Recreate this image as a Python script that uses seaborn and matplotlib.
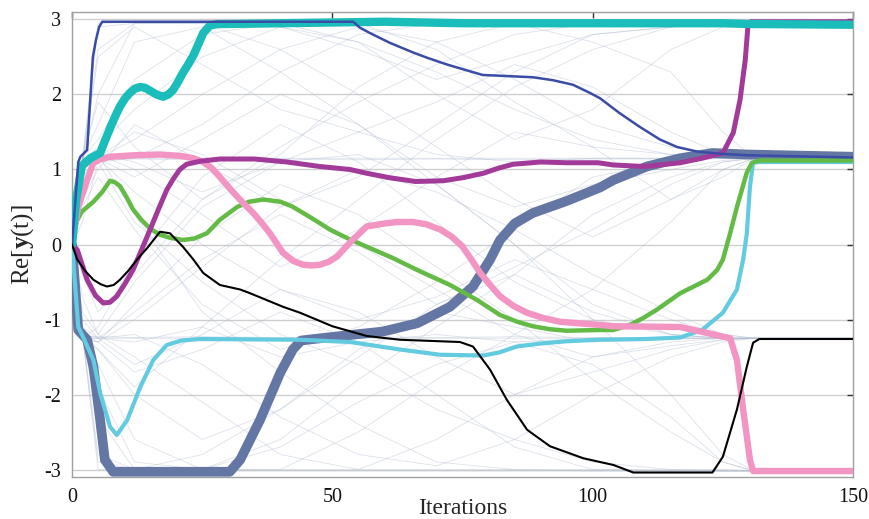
import numpy as np
import pandas as pd
import matplotlib
matplotlib.use("Agg")
import matplotlib.pyplot as plt
import seaborn as sns

# ---------------- data ----------------
navy_x = [0, 1.2, 1.6, 2.9, 4.0, 4.6, 5.2, 5.8, 54, 55.3, 57.2, 61, 65.5, 68.2, 72, 75.9, 78.9, 82.2, 88.5,
          92.4, 96.2, 99.5, 101.4, 105.2, 109, 112.9, 116.2, 120, 124.4, 129.6, 150]
navy_y = [0, 1.1, 1.17, 1.26, 2.5, 2.73, 2.9, 2.97, 2.97, 2.89, 2.82, 2.69, 2.56, 2.49, 2.40, 2.32, 2.26, 2.25,
          2.23, 2.19, 2.13, 2.02, 1.95, 1.75, 1.57, 1.40, 1.30, 1.24, 1.21, 1.19, 1.16]

teal_x = [0, 0.8, 1.9, 3.5, 5.4, 6.3, 7.3, 8.3, 9.2, 10.2, 11.1, 12.1, 13.1, 14, 15, 16.2, 17.5, 18.5, 19.4,
          20.3, 21.3, 22.3, 23.3, 24.2, 25.2, 26.5, 28, 30, 60, 75, 100, 125, 130, 150]
teal_y = [0, 0.6, 1.05, 1.15, 1.22, 1.38, 1.55, 1.71, 1.84, 1.95, 2.02, 2.08, 2.10, 2.09, 2.05, 2.0, 1.97,
          2.0, 2.06, 2.16, 2.29, 2.40, 2.52, 2.66, 2.82, 2.92, 2.94, 2.94, 2.97, 2.95, 2.95, 2.95, 2.94, 2.93]

pink_x = [0, 1.2, 2.9, 4.1, 5.5, 7.3, 12, 16.9, 21, 23.3, 25.2, 26.8, 28.4, 30, 31.7, 33.2, 34.8, 36.4, 38,
          40.5, 42.5, 44.4, 46, 47.6, 49.3, 50.9, 53.7, 56.6, 60, 62.4, 65.5, 68, 70.7, 73, 75, 76.7, 78.4,
          80.3, 82.2, 84.8, 87.4, 90.5, 93.7, 101, 104, 116.8, 122, 126.4, 127.7, 128.9, 130.2, 130.8, 150]
pink_y = [0, 0.5, 0.86, 1.09, 1.14, 1.17, 1.19, 1.2, 1.18, 1.15, 1.1, 1.02, 0.9, 0.77, 0.64, 0.53, 0.42, 0.29,
          0.15, -0.11, -0.22, -0.27, -0.28, -0.27, -0.23, -0.16, 0.05, 0.24, 0.28, 0.30, 0.30, 0.27, 0.2,
          0.1, -0.03, -0.2, -0.38, -0.54, -0.69, -0.82, -0.91, -0.98, -1.03, -1.07, -1.09, -1.1, -1.18,
          -1.25, -1.54, -2.2, -2.87, -3.02, -3.02]

magenta_x = [0, 1, 2.9, 4.5, 6, 7.3, 8.6, 10.1, 11.7, 13.3, 15, 16.6, 18.2, 19.5, 20.7, 22, 24.6, 28.4, 35,
             41.3, 47.6, 53.4, 56.6, 61, 66, 71.3, 75, 79, 82, 84.7, 90, 95, 101, 104, 110, 116.8, 121, 125,
             127, 128.3, 129.3, 129.8, 130.3, 150]
magenta_y = [0, -0.07, -0.47, -0.68, -0.78, -0.77, -0.69, -0.53, -0.34, -0.08, 0.2, 0.47, 0.73, 0.88, 1.0,
             1.07, 1.11, 1.14, 1.14, 1.1, 1.04, 1.0, 0.95, 0.89, 0.84, 0.85, 0.89, 0.95, 1.02, 1.07, 1.1,
             1.09, 1.09, 1.06, 1.04, 1.09, 1.15, 1.22, 1.49, 1.93, 2.46, 2.9, 2.97, 2.97]

green_x = [0, 0.8, 1.9, 4.1, 5.8, 7.3, 8.2, 9.2, 10.4, 11.7, 13.3, 15, 16.9, 18.8, 21.3, 23.5, 25.9, 28.4,
           31.7, 34, 36.7, 40, 42.2, 44.4, 47, 49.5, 53, 56.6, 61.6, 66.3, 72.6, 77.8, 82.2, 85.5, 88.5,
           91.8, 95, 101, 104, 107.2, 109.7, 112.3, 116.8, 122, 123.9, 125, 126.4, 127.7, 129.6, 130.6,
           132, 150]
green_y = [0, 0.3, 0.44, 0.57, 0.7, 0.85, 0.83, 0.78, 0.64, 0.47, 0.33, 0.21, 0.13, 0.09, 0.06, 0.08, 0.15,
           0.33, 0.5, 0.57, 0.6, 0.57, 0.51, 0.42, 0.31, 0.2, 0.08, -0.03, -0.18, -0.34, -0.54, -0.74,
           -0.94, -1.03, -1.09, -1.13, -1.15, -1.14, -1.14, -1.07, -0.98, -0.87, -0.65, -0.47, -0.34, -0.2,
           0.15, 0.5, 0.96, 1.09, 1.12, 1.12]

cyan_x = [0, 1.2, 2.1, 4.1, 5.4, 7.3, 8.6, 10.6, 13.1, 15.6, 18.2, 21, 24.6, 43.8, 53.4, 63, 70.7, 79, 82,
          85.4, 90, 95, 101, 110.4, 116.8, 121, 125, 127.7, 128.9, 129.6, 130.2, 130.8, 132, 150]
cyan_y = [0, -1.1, -1.23, -1.54, -1.98, -2.43, -2.54, -2.34, -1.9, -1.54, -1.34, -1.28, -1.26, -1.27, -1.3,
          -1.4, -1.47, -1.48, -1.44, -1.36, -1.32, -1.29, -1.27, -1.26, -1.24, -1.14, -0.91, -0.6, -0.2,
          0.15, 0.77, 1.09, 1.1, 1.1]

slate_x = [0, 1.2, 2.9, 4.1, 5.4, 6.3, 7.9, 20, 30.3, 32.3, 36.1, 40, 42.4, 44, 49, 59.7, 66.3, 72.6, 77,
           80.3, 82.2, 85, 88.5, 95, 101.4, 104, 110.4, 116.8, 123, 129.6, 150]
slate_y = [0, -1.14, -1.27, -1.63, -2.34, -2.87, -3.03, -3.03, -3.03, -2.87, -2.34, -1.71, -1.4, -1.28, -1.24,
           -1.16, -1.05, -0.83, -0.56, -0.2, 0.06, 0.28, 0.42, 0.58, 0.76, 0.86, 1.04, 1.15, 1.22, 1.2, 1.17]

black_x = [0, 1, 2.5, 4.1, 5.5, 6.7, 8, 9.2, 10.8, 12.5, 14.4, 16.9, 18.8, 21.3, 23.3, 25.2, 28.4, 32.3,
           34.2, 40.5, 43.8, 50, 56.6, 63, 74.5, 77, 80.3, 83.5, 87.4, 91.8, 98.2, 104, 107.8, 123, 125,
           127.7, 129.6, 130.8, 132, 150]
black_y = [0, -0.2, -0.35, -0.47, -0.53, -0.56, -0.54, -0.47, -0.35, -0.2, -0.05, 0.17, 0.15, -0.03, -0.2,
           -0.38, -0.54, -0.6, -0.65, -0.83, -0.91, -1.09, -1.22, -1.27, -1.3, -1.36, -1.67, -2.07, -2.47,
           -2.69, -2.85, -2.94, -3.04, -3.04, -2.83, -2.2, -1.63, -1.31, -1.26, -1.26]

# faint background trajectories (sampled at bg_x)
bg_x = [0, 2, 5, 12, 25, 40, 55, 70, 85, 100, 115, 125, 131, 150]
bg_lines = [
    [0, 1.1, 2.9, 2.95, 2.95, 2.9, 2.6, 2.2, 2.5, 2.8, 2.9, 2.95, 2.95, 2.95],
    [0, 1.1, 2.5, 2.9, 2.4, 1.8, 1.5, 1.9, 2.4, 2.1, 1.5, 1.2, 1.15, 1.15],
    [0, 1.15, 1.6, 2.7, 2.9, 2.3, 1.6, 0.9, 0.5, 0.8, 1.0, 1.12, 1.15, 1.15],
    [0, 1.1, 1.3, 1.8, 2.5, 2.9, 2.7, 2.0, 1.4, 1.8, 2.6, 2.9, 2.95, 2.95],
    [0, 1.15, 1.2, 1.0, 0.4, -0.3, 0.2, 0.9, 1.5, 1.3, 1.2, 1.16, 1.15, 1.15],
    [0, 0.9, 1.15, 1.4, 2.0, 2.6, 2.9, 2.7, 2.2, 1.6, 1.3, 1.18, 1.15, 1.15],
    [0, 1.1, 1.15, 0.7, 0.0, -0.6, -1.0, -0.7, -0.2, -0.6, -1.0, -1.2, -1.25, -1.25],
    [0, 0.6, 1.0, 1.6, 1.1, 0.5, 0.9, 1.6, 2.3, 2.8, 2.9, 2.95, 2.95, 2.95],
    [0, 1.1, 2.0, 2.95, 2.95, 2.95, 2.7, 2.3, 1.8, 1.4, 1.2, 1.15, 1.15, 1.15],
    [0, 1.15, 1.1, 0.3, -0.5, -1.2, -1.6, -2.2, -2.6, -2.9, -3.0, -3.02, -3.02, -3.02],
    [0, -1.2, -1.3, -1.0, -0.3, 0.5, 1.0, 0.7, 0.2, -0.4, -0.9, -1.2, -1.25, -1.25],
    [0, -1.2, -2.3, -3.0, -3.0, -2.7, -2.1, -1.6, -1.3, -1.6, -2.3, -2.9, -3.02, -3.02],
    [0, -1.25, -1.4, -2.0, -2.6, -2.2, -1.5, -0.8, -0.3, 0.2, 0.8, 1.1, 1.15, 1.15],
    [0, -1.0, -1.25, -1.6, -1.2, -0.6, -0.9, -1.5, -2.0, -1.7, -1.4, -1.27, -1.25, -1.25],
    [0, -1.2, -2.8, -3.0, -2.8, -2.2, -1.4, -0.9, -1.1, -1.3, -1.26, -1.25, -1.25, -1.25],
    [0, -1.25, -1.3, -0.8, 0.1, 0.8, 0.4, -0.3, -1.0, -1.8, -2.5, -2.9, -3.02, -3.02],
    [0, -0.7, -1.2, -1.5, -2.1, -2.8, -3.0, -2.6, -2.0, -1.5, -1.3, -1.25, -1.25, -1.25],
    [0, -1.2, -1.6, -2.6, -3.0, -3.0, -2.5, -1.8, -1.2, -0.6, 0.3, 1.0, 1.15, 1.15],
    [0, 0.5, 0.9, 0.2, -0.8, -1.4, -1.1, -0.5, 0.2, 0.9, 1.1, 1.15, 1.15, 1.15],
    [0, -0.4, -0.9, -0.4, 0.6, 1.3, 1.9, 2.4, 2.8, 2.95, 2.95, 2.95, 2.95, 2.95],
    [0, 1.1, 1.15, 1.5, 1.2, 0.6, 0.0, -0.6, -1.2, -1.5, -1.35, -1.27, -1.25, -1.25],
    [0, -1.25, -1.3, -1.7, -1.4, -0.9, -1.3, -2.0, -2.7, -3.0, -3.02, -3.02, -3.02, -3.02],
    [0, 1.15, 1.4, 2.2, 2.8, 2.95, 2.95, 2.6, 1.9, 1.3, 0.6, 0.9, 1.15, 1.15],
    [0, -1.2, -1.25, -0.9, -0.2, 0.4, -0.1, -0.8, -0.4, 0.4, 0.9, 1.1, 1.15, 1.15],
    [0, 1.0, 1.15, 0.9, 1.4, 2.0, 1.6, 0.8, 0.0, -0.8, -1.2, -1.25, -1.25, -1.25],
    [0, -1.2, -1.9, -2.9, -3.0, -2.6, -1.8, -1.1, -0.4, -0.9, -1.2, -1.25, -1.25, -1.25],
    [0, 1.1, 2.6, 2.95, 2.95, 2.6, 2.0, 1.3, 0.6, 0.1, 0.6, 1.0, 1.15, 1.15],
    [0, -1.1, -1.25, -1.2, -1.6, -2.3, -2.8, -2.95, -2.6, -2.0, -1.5, -1.3, -1.25, -1.25],
    [0, 0.3, 1.1, 1.15, 1.6, 2.3, 2.8, 2.95, 2.95, 2.7, 2.3, 1.5, 1.15, 1.15],
    [0, -0.9, -1.2, -0.5, 0.5, 1.1, 1.2, 0.8, 0.0, -1.0, -2.0, -2.8, -3.02, -3.02],
    [0, 1.15, 1.2, 1.1, 0.7, 1.1, 1.5, 1.2, 1.1, 1.15, 1.15, 1.15, 1.15, 1.15],
    [0, -1.25, -1.25, -1.3, -1.1, -1.5, -1.3, -1.2, -1.3, -1.25, -1.25, -1.25, -1.25, -1.25],
    [0, 1.15, 1.9, 1.3, 0.6, 1.2, 2.1, 2.7, 2.95, 2.95, 2.95, 2.95, 2.95, 2.95],
    [0, -1.25, -1.1, -0.2, 0.9, 1.6, 1.1, 0.3, -0.5, -1.0, -1.2, -1.25, -1.25, -1.25],
    [0, 1.1, 1.2, 0.4, -0.9, -1.7, -2.4, -2.9, -3.0, -3.02, -3.02, -3.02, -3.02, -3.02],
    [0, -1.2, -1.4, -1.9, -1.1, -0.2, 0.6, 1.4, 2.1, 2.6, 2.9, 2.95, 2.95, 2.95],
    [0, 1.15, 1.15, 1.15, 1.15, 1.15, 1.15, 1.15, 1.15, 1.15, 1.15, 1.15, 1.15, 1.15],
    [0, 1.12, 1.13, 1.14, 1.13, 1.14, 1.13, 1.14, 1.13, 1.14, 1.14, 1.15, 1.15, 1.15],
    [0, -1.25, -1.25, -1.25, -1.25, -1.25, -1.25, -1.25, -1.25, -1.25, -1.25, -1.25, -1.25, -1.25],
    [0, -1.22, -1.23, -1.24, -1.23, -1.24, -1.23, -1.24, -1.23, -1.24, -1.24, -1.25, -1.25, -1.25],
    [0, -1.2, -3.0, -3.02, -3.02, -3.02, -3.02, -3.02, -3.02, -3.02, -3.02, -3.02, -3.02, -3.02],
    [0, -1.2, -2.9, -3.0, -3.0, -3.0, -3.0, -3.0, -3.0, -3.0, -3.0, -3.0, -3.02, -3.02],
    [0, 1.15, 2.95, 2.96, 2.96, 2.96, 2.96, 2.96, 2.96, 2.96, 2.96, 2.96, 2.95, 2.95],
]

y_ticks = [-3, -2, -1, 0, 1, 2, 3]
x_ticks = [0, 50, 100, 150]

# ---------------- plot ----------------
sns.set_theme(style="white")
plt.rcParams["font.family"] = ["Liberation Serif", "DejaVu Serif"]
plt.rcParams["mathtext.fontset"] = "custom"
plt.rcParams["mathtext.rm"] = "Liberation Serif"
plt.rcParams["mathtext.it"] = "Liberation Serif:italic"
plt.rcParams["mathtext.bf"] = "Liberation Serif:bold"

fig = plt.figure(figsize=(8.7, 5.19), dpi=100)
ax = fig.add_axes([0.0828, 0.0809, 0.8977, 0.896])

bg_df = pd.DataFrame(
    [(i, x, y) for i, ys in enumerate(bg_lines) for x, y in zip(bg_x, ys)],
    columns=["unit", "it", "val"],
)
sns.lineplot(data=bg_df, x="it", y="val", units="unit", estimator=None, sort=False,
             color="#b3bed2", lw=0.6, alpha=0.45, ax=ax, zorder=1)

series = [
    (slate_x, slate_y, "#6476a3", 7.0),
    (cyan_x, cyan_y, "#62cbe0", 3.0),
    (green_x, green_y, "#63bb46", 3.2),
    (pink_x, pink_y, "#f395c2", 4.6),
    (magenta_x, magenta_y, "#a23a9a", 3.6),
    (teal_x, teal_y, "#1bbdbb", 6.0),
    (navy_x, navy_y, "#3a4ca6", 1.8),
    (black_x, black_y, "#000000", 1.5),
]
for k, (xs, ys, col, lw) in enumerate(series):
    df = pd.DataFrame({"it": xs, "val": ys})
    sns.lineplot(data=df, x="it", y="val", estimator=None, sort=False, color=col,
                 lw=lw, ax=ax, zorder=3 + k)

ax.set_xlim(0, 150)
ax.set_ylim(-3.1, 3.1)
ax.set_xticks(x_ticks)
ax.set_xticklabels([str(t) for t in x_ticks])
ax.set_yticks(y_ticks)
ax.set_yticklabels([str(t) for t in y_ticks])
ax.yaxis.grid(True, color="#cfcfcf", lw=1.0, zorder=0)
ax.xaxis.grid(False)
ax.set_axisbelow(True)
ax.tick_params(axis="both", direction="in", length=4, width=1, colors="#333333",
               labelsize=14.5, top=True, right=True, labelcolor="#111111")
ax.tick_params(axis="x", pad=8)
ax.tick_params(axis="y", pad=8)
for s in ax.spines.values():
    s.set_color("#a0a0a0")
    s.set_linewidth(1.0)

ax.set_xlabel("Iterations", fontsize=17)
ax.xaxis.set_label_coords(0.5, -0.046)
ax.set_ylabel(r"Re[$\mathbf{y}$(t)]", fontsize=18, labelpad=6)

fig.savefig("out.png", dpi=100)
